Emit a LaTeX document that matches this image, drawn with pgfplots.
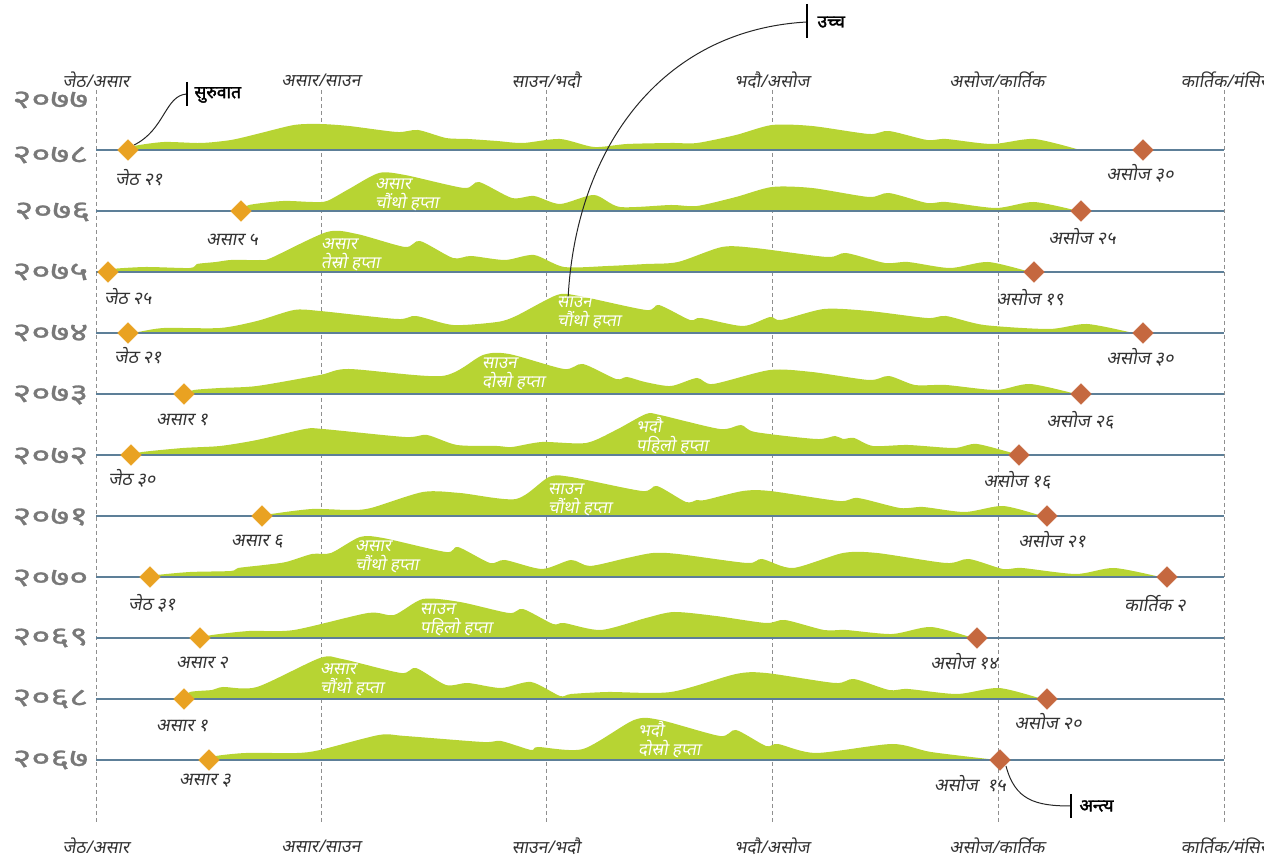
\documentclass[border=0pt]{standalone}
\usepackage{pgfplots}
\usepackage{pgfplotstable}
\pgfplotsset{compat=1.18}
\usepackage{fontspec}
\setmainfont{Noto Sans}[Script=Devanagari]
\newfontfamily\dvi{Noto Sans}[Script=Devanagari,FakeSlant=0.18]
\newfontfamily\dvb{Noto Sans}[Script=Devanagari,FakeBold=2]
\newfontfamily\dvy{Noto Sans}[Script=Devanagari,FakeBold=1,FakeStretch=1.4]

\definecolor{ridgegreen}{HTML}{B7D433}
\definecolor{startorange}{HTML}{E9A222}
\definecolor{endbrown}{HTML}{C5683F}
\definecolor{baseblue}{HTML}{5D7F98}
\definecolor{gridgray}{HTML}{8F8F8F}
\definecolor{txtgray}{HTML}{333333}
\definecolor{yeargray}{HTML}{787878}

% ridge profiles: x in px, h = height above the row baseline
\pgfplotstableread{
x h
128 0
134 4
164 8
201 7
231 10
257 16
294 25
320 26
349 24
397 18
418 20
446 12
468 11
497 9
523 7
560 11
594 3
627 6
671 7
697 7
736 15
772 25
812 24
869 16
889 19
927 10
946 11
992 6
1034 11
1080 0
}\rA
\pgfplotstableread{
x h
241 0
249 6
283 10
312 9
327 10
349 22
379 38
405 36
464 23
479 29
512 13
534 15
560 7
594 16
620 4
671 6
697 5
736 14
772 24
812 23
869 14
889 18
927 8
946 9
996 3
1034 9
1078 0
}\rB
\pgfplotstableread{
x h
108 0
112 3
146 5
190 4
197 8
216 10
231 12
260 12
271 14
327 40
357 38
405 25
420 31
453 14
471 16
505 12
534 17
564 5
608 6
646 8
678 10
722 25
755 24
827 15
846 19
885 9
908 10
950 4
988 10
1030 0
}\rC
\pgfplotstableread{
x h
128 0
138 1
164 5
220 5
257 12
294 23
320 22
397 14
416 17
453 8
497 11
516 17
557 38
579 37
646 23
659 28
690 13
701 15
743 7
770 16
781 13
824 24
869 22
927 15
946 17
984 8
1049 4
1087 9
1133 0
}\rD
\pgfplotstableread{
x h
184 0
194 4
220 6
257 8
320 19
349 25
442 18
483 39
509 40
564 25
583 30
616 15
627 17
645 12
671 8
697 16
713 10
770 24
812 22
869 14
889 18
915 9
946 9
996 4
1030 10
1076 0
}\rE
\pgfplotstableread{
x h
131 0
142 3
183 7
220 9
257 15
305 26
323 26
405 18
427 20
457 10
497 9
512 8
542 13
586 12
616 25
646 41
660 40
720 26
741 30
755 23
816 16
835 19
843 16
854 17
873 9
908 10
954 7
977 11
1019 0
}\rF
\pgfplotstableread{
x h
262 0
271 2
312 7
349 6
371 8
423 24
460 23
516 17
549 39
571 39
642 25
657 30
686 14
697 16
705 16
743 25
770 25
839 15
858 18
900 8
923 9
965 4
1003 10
1042 0
}\rG
\pgfplotstableread{
x h
150 0
157 2
190 5
231 6
238 9
264 12
286 15
312 23
331 24
360 40
383 39
446 25
458 30
490 14
505 17
542 8
571 17
590 11
627 19
653 24
678 23
747 14
762 18
793 9
843 24
877 24
946 14
969 18
1003 8
1022 9
1076 3
1114 9
1160 0
}\rH
\pgfplotstableread{
x h
200 0
212 3
249 7
294 8
368 25
394 23
423 39
460 36
509 25
523 29
553 14
564 15
601 8
646 20
674 26
716 22
766 15
785 18
824 8
846 8
892 4
931 11
973 0
}\rI
\pgfplotstableread{
x h
184 0
190 7
212 9
223 12
257 12
320 41
342 40
401 26
416 31
446 14
468 16
501 11
531 17
560 3
571 5
608 7
671 7
736 25
766 26
835 16
854 20
889 9
908 10
957 5
999 11
1042 0
}\rJ
\pgfplotstableread{
x h
209 0
216 4
246 7
297 7
320 10
379 25
405 24
483 18
501 19
531 10
538 13
583 11
634 40
660 40
720 24
736 30
766 14
778 16
816 7
892 16
931 8
997 0
}\rK

\newcommand\mlf{\dvi\fontsize{17.5}{20}\selectfont}
\newcommand\dlf{\dvi\fontsize{18}{21}\selectfont}
\newcommand\inl{\dvi\fontsize{17}{19}\selectfont}
\newcommand\yrf{\dvy\fontsize{26}{28}\selectfont}

\tikzset{
  ridge/.style={fill=ridgegreen, draw=none, smooth, tension=0.45},
  base/.style={baseblue, line width=1.3pt},
  vgrid/.style={gridgray, line width=0.9pt, dash pattern=on 4pt off 3pt},
  mlab/.style={font=\mlf, text=txtgray},
  dlab/.style={font=\dlf, text=txtgray},
  ylab/.style={anchor=west, font=\yrf, text=yeargray},
  wlab/.style={anchor=west, align=left, font=\inl, text=white, inner sep=0pt},
  clab/.style={anchor=west, font={\dvb\fontsize{17.5}{20}\selectfont}, text=black},
}
\pgfplotsset{
  startmk/.style={only marks, mark=square*, mark size=7.3pt,
    mark options={rotate=45, fill=startorange, draw=startorange, rounded corners=1.8pt}},
  endmk/.style={only marks, mark=square*, mark size=7.3pt,
    mark options={rotate=45, fill=endbrown, draw=endbrown, rounded corners=1.8pt}},
}

\begin{document}
\begin{tikzpicture}
\begin{axis}[
  name=ax,
  scale only axis,
  width=1264pt, height=859pt,
  xmin=0, xmax=1264, ymin=0, ymax=859,
  hide axis,
  clip=false,
]
% month boundaries
\addplot[vgrid] coordinates {(96,769) (96,37)};
\addplot[vgrid] coordinates {(321,769) (321,37)};
\addplot[vgrid] coordinates {(546,769) (546,37)};
\addplot[vgrid] coordinates {(772,769) (772,37)};
\addplot[vgrid] coordinates {(998,769) (998,37)};
\addplot[vgrid] coordinates {(1224,769) (1224,37)};

% ridges
\addplot[ridge] table[x=x, y expr=\thisrow{h}+709] {\rA} -- cycle;
\addplot[ridge] table[x=x, y expr=\thisrow{h}+648] {\rB} -- cycle;
\addplot[ridge] table[x=x, y expr=\thisrow{h}+587] {\rC} -- cycle;
\addplot[ridge] table[x=x, y expr=\thisrow{h}+526] {\rD} -- cycle;
\addplot[ridge] table[x=x, y expr=\thisrow{h}+465] {\rE} -- cycle;
\addplot[ridge] table[x=x, y expr=\thisrow{h}+404] {\rF} -- cycle;
\addplot[ridge] table[x=x, y expr=\thisrow{h}+343] {\rG} -- cycle;
\addplot[ridge] table[x=x, y expr=\thisrow{h}+282] {\rH} -- cycle;
\addplot[ridge] table[x=x, y expr=\thisrow{h}+221] {\rI} -- cycle;
\addplot[ridge] table[x=x, y expr=\thisrow{h}+160] {\rJ} -- cycle;
\addplot[ridge] table[x=x, y expr=\thisrow{h}+99] {\rK} -- cycle;

% baselines
\addplot[base] coordinates {(96,709) (1224,709)};
\addplot[base] coordinates {(96,648) (1224,648)};
\addplot[base] coordinates {(96,587) (1224,587)};
\addplot[base] coordinates {(96,526) (1224,526)};
\addplot[base] coordinates {(96,465) (1224,465)};
\addplot[base] coordinates {(96,404) (1224,404)};
\addplot[base] coordinates {(96,343) (1224,343)};
\addplot[base] coordinates {(96,282) (1224,282)};
\addplot[base] coordinates {(96,221) (1224,221)};
\addplot[base] coordinates {(96,160) (1224,160)};
\addplot[base] coordinates {(96,99) (1224,99)};

% callout curves
\draw[black!85, line width=1pt] (axis cs:134,714) .. controls (axis cs:165,729) and (axis cs:165,764) .. (axis cs:187,765);
\draw[black, line width=2.6pt] (axis cs:187,777) -- (axis cs:187,753);
\draw[black!85, line width=1pt] (axis cs:568,559) .. controls (axis cs:575,709) and (axis cs:660,829) .. (axis cs:807,837);
\draw[black, line width=2.6pt] (axis cs:807,855) -- (axis cs:807,821);
\draw[black!85, line width=1pt] (axis cs:1006,93) .. controls (axis cs:1015,59) and (axis cs:1035,53) .. (axis cs:1071,53);
\draw[black, line width=2.6pt] (axis cs:1071,65) -- (axis cs:1071,41);

% start and end markers
\addplot[startmk] coordinates {(128,709) (241,648) (108,587) (128,526) (184,465) (131,404) (262,343) (150,282) (200,221) (184,160) (209,99)};
\addplot[endmk] coordinates {(1143,709) (1081,648) (1034,587) (1143,526) (1081,465) (1019,404) (1047,343) (1167,282) (977,221) (1047,160) (1000,99)};

% month labels
\node[mlab] at (axis cs:96,779) {जेठ/असार};
\node[mlab] at (axis cs:321,779) {असार/साउन};
\node[mlab] at (axis cs:546,779) {साउन/भदौ};
\node[mlab] at (axis cs:772,779) {भदौ/असोज};
\node[mlab] at (axis cs:997,779) {असोज/कार्तिक};
\node[mlab] at (axis cs:1224,779) {कार्तिक/मंसिर};
\node[mlab] at (axis cs:96,13) {जेठ/असार};
\node[mlab] at (axis cs:321,13) {असार/साउन};
\node[mlab] at (axis cs:546,13) {साउन/भदौ};
\node[mlab] at (axis cs:772,13) {भदौ/असोज};
\node[mlab] at (axis cs:997,13) {असोज/कार्तिक};
\node[mlab] at (axis cs:1224,13) {कार्तिक/मंसिर};

% year labels
\node[ylab] at (axis cs:9,759) {२०७७};
\node[ylab] at (axis cs:9,704) {२०७८};
\node[ylab] at (axis cs:11,647) {२०७६};
\node[ylab] at (axis cs:9,587) {२०७५};
\node[ylab] at (axis cs:9,526) {२०७४};
\node[ylab] at (axis cs:9,464) {२०७३};
\node[ylab] at (axis cs:9,403) {२०७२};
\node[ylab] at (axis cs:9,342) {२०७१};
\node[ylab] at (axis cs:9,281) {२०७०};
\node[ylab] at (axis cs:9,221) {२०६९};
\node[ylab] at (axis cs:9,160) {२०६८};
\node[ylab] at (axis cs:9,99) {२०६७};

% start and end dates
\node[dlab] at (axis cs:139,681) {जेठ २१};
\node[dlab] at (axis cs:1140,686) {असोज ३०};
\node[dlab] at (axis cs:232,619) {असार ५};
\node[dlab] at (axis cs:1082,622) {असोज २५};
\node[dlab] at (axis cs:128,562) {जेठ २५};
\node[dlab] at (axis cs:1030,561) {असोज १९};
\node[dlab] at (axis cs:138,503) {जेठ २१};
\node[dlab] at (axis cs:1140,502) {असोज ३०};
\node[dlab] at (axis cs:182,439) {असार १};
\node[dlab] at (axis cs:1080,439) {असोज २६};
\node[dlab] at (axis cs:132,381) {जेठ ३०};
\node[dlab] at (axis cs:1017,379) {असोज १६};
\node[dlab] at (axis cs:257,317) {असार ६};
\node[dlab] at (axis cs:1052,319) {असोज २१};
\node[dlab] at (axis cs:152,256) {जेठ ३१};
\node[dlab] at (axis cs:1155,255) {कार्तिक २};
\node[dlab] at (axis cs:202,196) {असार २};
\node[dlab] at (axis cs:964,197) {असोज १४};
\node[dlab] at (axis cs:182,133) {असार १};
\node[dlab] at (axis cs:1048,137) {असोज २०};
\node[dlab] at (axis cs:205,78) {असार ३};
\node[dlab] at (axis cs:970,75) {असोज\ \ १५};

% peak week labels
\node[wlab] at (axis cs:375,664) {असार\\चौंथो हप्ता};
\node[wlab] at (axis cs:321,604) {असार\\तेस्रो हप्ता};
\node[wlab] at (axis cs:557,546) {साउन\\चौंथो हप्ता};
\node[wlab] at (axis cs:482,485) {साउन\\दोस्रो हप्ता};
\node[wlab] at (axis cs:636,423) {भदौ\\पहिलो हप्ता};
\node[wlab] at (axis cs:548,359) {साउन\\चौंथो हप्ता};
\node[wlab] at (axis cs:355,302) {असार\\चौंथो हप्ता};
\node[wlab] at (axis cs:420,239) {साउन\\पहिलो हप्ता};
\node[wlab] at (axis cs:320,179) {असार\\चौंथो हप्ता};
\node[wlab] at (axis cs:638,119) {भदौ\\दोस्रो हप्ता};

% callout labels
\node[clab] at (axis cs:191,764) {सुरुवात};
\node[clab] at (axis cs:814,837) {उच्च};
\node[clab] at (axis cs:1076,53) {अन्त्य};
\end{axis}
\pgfresetboundingbox
\path (ax.south west) rectangle (ax.north east);
\end{tikzpicture}
\end{document}
